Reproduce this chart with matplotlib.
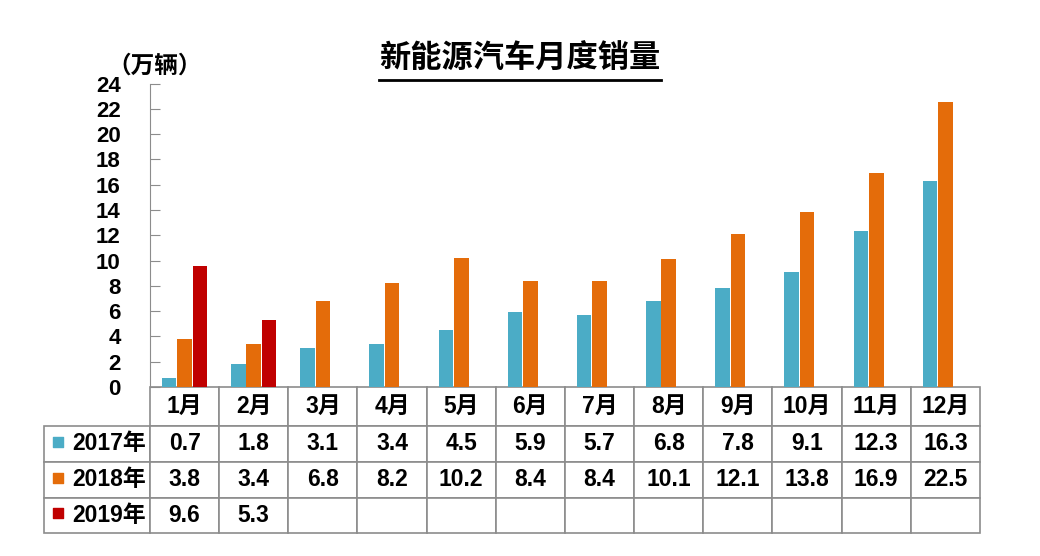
import numpy as np
import matplotlib.pyplot as plt
from matplotlib.lines import Line2D

plt.rcParams['font.family'] = ['Liberation Sans', 'Noto Sans CJK SC']
plt.rcParams['font.weight'] = 'bold'

# data
months = ['1月', '2月', '3月', '4月', '5月', '6月', '7月', '8月', '9月', '10月', '11月', '12月']
years = ['2017年', '2018年', '2019年']
sales_2017 = [0.7, 1.8, 3.1, 3.4, 4.5, 5.9, 5.7, 6.8, 7.8, 9.1, 12.3, 16.3]
sales_2018 = [3.8, 3.4, 6.8, 8.2, 10.2, 8.4, 8.4, 10.1, 12.1, 13.8, 16.9, 22.5]
sales_2019 = [9.6, 5.3, None, None, None, None, None, None, None, None, None, None]
colors = ['#4BACC6', '#E46C0A', '#C00000']

W, H = 1040, 556
fig = plt.figure(figsize=(W / 100, H / 100), dpi=100)
ax_left, ax_right, ax_top, ax_bottom = 150, 980, 83.5, 387
ax = fig.add_axes([ax_left / W, 1 - ax_bottom / H, (ax_right - ax_left) / W, (ax_bottom - ax_top) / H])

x = np.arange(len(months))
step = 0.222
width = 0.21
series = [sales_2017, sales_2018, sales_2019]
for i, (vals, c) in enumerate(zip(series, colors)):
    v = np.array([np.nan if s is None else s for s in vals], dtype=float)
    ax.bar(x + (i - 1) * step, v, width=width, color=c, zorder=2)

ax.set_xlim(-0.5, len(months) - 0.5)
ax.set_ylim(0, 24)
ax.set_yticks(np.arange(0, 25, 2))
ax.set_xticks([])
for s in ['top', 'right', 'bottom']:
    ax.spines[s].set_visible(False)
ax.spines['left'].set_color('#8c8c8c')
ax.tick_params(axis='y', direction='in', length=7, color='#8c8c8c', pad=21, labelsize=16)
for lab in ax.get_yticklabels():
    lab.set_fontweight('bold')

# data table under the axes
ax_w = ax_right - ax_left
ax_h = ax_bottom - ax_top
label_w = 106
col_w = ax_w / len(months)
row_h = [39, 36, 36, 35]
cell_text = [[years[r]] + ['' if v is None else f'{v}' for v in series[r]] for r in range(3)]
tbl = ax.table(cellText=cell_text, colLabels=[''] + months,
               colWidths=[label_w / ax_w] + [col_w / ax_w] * len(months),
               cellLoc='center',
               bbox=[-label_w / ax_w, -sum(row_h) / ax_h, (ax_w + label_w) / ax_w, sum(row_h) / ax_h])
tbl.auto_set_font_size(False)
tbl.set_fontsize(16.5)
for (r, c), cell in tbl.get_celld().items():
    cell.set_height(row_h[r] / ax_h)
    cell.set_edgecolor('#8c8c8c')
    cell.set_linewidth(1.2)
    cell.get_text().set_fontweight('bold')
    if r == 0 and c == 0:
        cell.set_edgecolor('none')
        cell.visible_edges = ''
    if c == 0 and r > 0:
        cell.get_text().set_horizontalalignment('right')
        cell.PAD = 0.035

# legend squares in the row labels
y_acc = row_h[0]
for r in range(3):
    yc = y_acc + row_h[r + 1] / 2 - 2.5
    ax.scatter([(57.5 - ax_left) / ax_w], [-yc / ax_h], marker='s', s=62, color=colors[r],
               transform=ax.transAxes, clip_on=False, zorder=5)
    y_acc += row_h[r + 1]

# title with underline
title = fig.text(0.5, 1 - 60 / H, '新能源汽车月度销量', ha='center', va='center',
                 fontsize=22.5, fontweight='bold')
fig.text(155 / W, 1 - 66 / H, '（万辆）', ha='center', va='center', fontsize=17, fontweight='bold')

fig.canvas.draw()
bb = title.get_window_extent()
uy = 1 - 80 / H
fig.add_artist(Line2D([bb.x0 / W, bb.x1 / W], [uy, uy], color='black', lw=2))

fig.savefig('out.png', dpi=100)
